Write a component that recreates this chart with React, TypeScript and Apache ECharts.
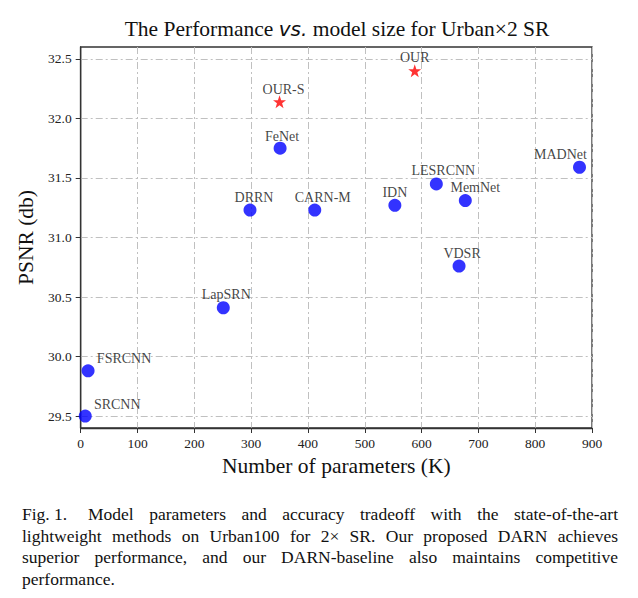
import React, { useEffect, useRef } from "react";
import * as echarts from "echarts";

// ---- data ----
const methodNames = ["SRCNN", "FSRCNN", "LapSRN", "DRRN", "FeNet", "CARN-M", "IDN", "LESRCNN", "MemNet", "VDSR", "MADNet"];
const methodParams = [8, 13, 251, 298, 351, 412, 553, 626, 677, 666, 878];
const methodPsnr = [29.5, 29.88, 30.41, 31.23, 31.75, 31.23, 31.27, 31.45, 31.31, 30.76, 31.59];

const ourNames = ["OUR-S", "OUR"];
const ourParams = [350, 588];
const ourPsnr = [32.14, 32.4];

const yTicks = [29.5, 30.0, 30.5, 31.0, 31.5, 32.0, 32.5];

const captionLabel = "Fig. 1.";
const captionLines = [
  "Model parameters and accuracy tradeoff with the state-of-the-art",
  "lightweight methods on Urban100 for 2\u00d7 SR. Our proposed DARN achieves",
  "superior performance, and our DARN-baseline also maintains competitive",
  "performance.",
];

// label placement (layout only)
const labelOffsets: Record<string, [number, number]> = {
  SRCNN: [32, -12],
  FSRCNN: [36, -12],
  LapSRN: [3, -13],
  DRRN: [4, -13],
  FeNet: [2, -12],
  "CARN-M": [8, -13],
  IDN: [0, -13],
  LESRCNN: [7, -13],
  MemNet: [10, -13],
  VDSR: [3, -13],
  MADNet: [-19, -13],
  "OUR-S": [4, -12],
  OUR: [0, -13],
};

const SERIF = "'Liberation Serif', 'Times New Roman', serif";
const STAR =
  "path://M50,0 L61.8,35.1 L97.6,34.5 L68.8,56 L79.4,90.5 L50,70 L20.6,90.5 L31.2,56 L2.4,34.5 L38.2,35.1 Z";

function buildData(names: string[], xs: number[], ys: number[]) {
  return names.map((n, i) => ({
    name: n,
    value: [xs[i], ys[i]],
    label: {
      show: true,
      position: "inside",
      offset: labelOffsets[n] || [0, -13],
      formatter: n,
    },
  }));
}

const justify: React.CSSProperties = {
  textAlign: "justify",
  textAlignLast: "justify",
  whiteSpace: "nowrap",
} as React.CSSProperties;

export default function App() {
  const ref = useRef<HTMLDivElement>(null);

  useEffect(() => {
    if (!ref.current) return;
    const chart = echarts.init(ref.current, undefined, { renderer: "svg" });
    const gridLine = { show: true, lineStyle: { color: "#c0c0c0", width: 1, type: [7, 3, 2, 3] as any } };
    const option: any = {
      animation: false,
      backgroundColor: "#ffffff",
      grid: {
        left: 80.7,
        right: 46,
        top: 47,
        bottom: 170,
        show: true,
        borderColor: "#333",
        borderWidth: 1.3,
        backgroundColor: "transparent",
      },
      graphic: [
        {
          type: "text",
          x: 337,
          y: 29,
          style: {
            text: "The Performance {i|vs.} model size for Urban\u00d72 SR",
            fontFamily: SERIF,
            fontSize: 21.5,
            fill: "#111",
            align: "center",
            verticalAlign: "middle",
            rich: {
              i: { fontFamily: "DejaVu Sans", fontStyle: "italic", fontSize: 20, fill: "#111" },
            },
          },
        },
      ],
      xAxis: {
        type: "value",
        min: 0,
        max: 900,
        interval: 100,
        name: "Number of parameters (K)",
        nameLocation: "middle",
        nameGap: 27,
        nameTextStyle: { fontFamily: SERIF, fontSize: 21.5, color: "#111" },
        axisLine: { show: true, onZero: false, lineStyle: { color: "#333", width: 1.3 } },
        axisTick: { show: true, inside: false, length: 5, lineStyle: { color: "#333", width: 1 } },
        axisLabel: { fontFamily: SERIF, fontSize: 13.5, color: "#222", margin: 8 },
        splitLine: gridLine,
      },
      yAxis: {
        type: "value",
        min: 29.4,
        max: 32.6,
        name: "PSNR (db)",
        nameLocation: "middle",
        nameGap: 40,
        nameTextStyle: { fontFamily: SERIF, fontSize: 21.5, color: "#111" },
        axisLine: { show: true, onZero: false, lineStyle: { color: "#333", width: 1.3 } },
        axisTick: { show: true, inside: false, length: 5, customValues: yTicks, lineStyle: { color: "#333", width: 1 } },
        axisLabel: {
          fontFamily: SERIF,
          fontSize: 13.5,
          color: "#222",
          margin: 9,
          customValues: yTicks,
          formatter: (v: number) => v.toFixed(1),
        },
        splitLine: { ...gridLine, customValues: yTicks },
      },
      series: [
        {
          type: "scatter",
          symbol: "circle",
          symbolSize: 13,
          itemStyle: { color: "#0000ff" },
          label: { fontFamily: SERIF, fontSize: 14, color: "#111" },
          data: buildData(methodNames, methodParams, methodPsnr),
          z: 3,
        },
        {
          type: "scatter",
          symbol: STAR,
          symbolSize: 13,
          itemStyle: { color: "#ff0000" },
          label: { fontFamily: SERIF, fontSize: 14, color: "#111" },
          data: buildData(ourNames, ourParams, ourPsnr),
          z: 4,
        },
      ],
    };
    chart.setOption(option);
    return () => chart.dispose();
  }, []);

  return (
    <div style={{ position: "fixed", left: 0, top: 0, width: 638, height: 598, background: "#fff" }}>
      <div ref={ref} style={{ position: "absolute", left: 0, top: 0, width: 638, height: 598 }} />
      <div
        style={{
          position: "absolute",
          left: 22,
          top: 504,
          width: 596,
          fontFamily: SERIF,
          fontSize: 17.5,
          lineHeight: "21.7px",
          color: "#111",
        }}
      >
        <div style={{ display: "flex", width: 596 }}>
          <span style={{ width: 66, minWidth: 66, flex: "0 0 66px", whiteSpace: "nowrap" }}>{captionLabel}</span>
          <div style={{ ...justify, flex: "1 1 0px", minWidth: 0 }}>{captionLines[0]}</div>
        </div>
        <div style={justify}>{captionLines[1]}</div>
        <div style={justify}>{captionLines[2]}</div>
        <div style={{ whiteSpace: "nowrap" }}>{captionLines[3]}</div>
      </div>
    </div>
  );
}
